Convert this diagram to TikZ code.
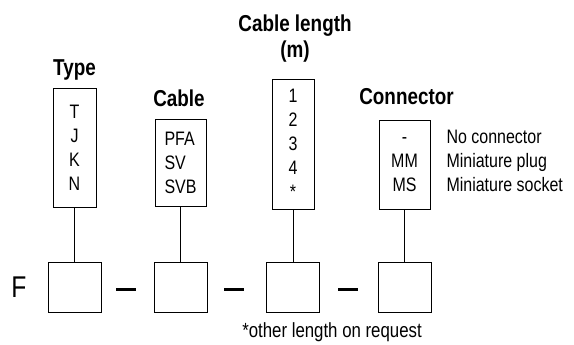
\documentclass[tikz,border=0pt]{standalone}
\usepackage{fontspec}
\setmainfont{Liberation Sans}[FakeStretch=0.82]
\begin{document}
\begin{tikzpicture}[x=1pt,y=-1pt,
  caja/.style={draw,line width=0.9pt,inner sep=0pt,align=center,font=\fontsize{19.5}{24}\selectfont},
  titulo/.style={anchor=base,font=\fontsize{23}{27}\selectfont\bfseries},
  casilla/.style={draw,line width=0.9pt,minimum width=53pt,minimum height=50pt,inner sep=0pt},
  guion/.style={fill=black,minimum width=20pt,minimum height=3pt,inner sep=0pt},
  texto/.style={font=\fontsize{19.5}{24}\selectfont}]
\useasboundingbox (0,0) rectangle (574,345);

%Cajas con las opciones
\node[caja,minimum width=43pt,minimum height=119pt] (tipo) at (74.5,147.5) {T\\J\\K\\N};
\node[caja,align=left,minimum width=51pt,minimum height=87pt] (cable) at (180.5,162.5) {PFA\\SV\\SVB};
\node[caja,minimum width=42pt,minimum height=130pt] (largo) at (293,144) {1\\2\\3\\4\\*};
\node[caja,minimum width=51pt,minimum height=89pt] (conector) at (404.5,164.5) {-\\MM\\MS};
\node[texto,align=left,anchor=west] (nota) at (443,161) {No connector\\Miniature plug\\Miniature socket};

%Titulos
\node[titulo] (ttipo) at (74.5,76) {Type};
\node[titulo] (tcable) at (179,107) {Cable};
\node[titulo] (tlargo) at (295,32) {Cable length};
\node[titulo] (tm) at (295,58) {(m)};
\node[titulo] (tconector) at (406.5,105) {Connector};

%Casillas del codigo
\node[font=\fontsize{30}{30}\selectfont] (F) at (19,287.5) {F};
\foreach \n/\x in {1/74.5,2/180.5,3/293,4/404.5}{
    \node[casilla] (c\n) at (\x,287) {};
}
\foreach \n/\x in {1/126,2/234,3/347.5}{
    \node[guion] (g\n) at (\x,289) {};
}

%Lineas de union
\foreach \a/\n in {tipo/1,cable/2,largo/3,conector/4}{
    \draw[line width=0.9pt] (\a.south) -- (c\n.north);
}

\node[anchor=base,font=\fontsize{20.5}{24}\selectfont] (pie) at (332,337) {*other length on request};
\end{tikzpicture}
\end{document}
